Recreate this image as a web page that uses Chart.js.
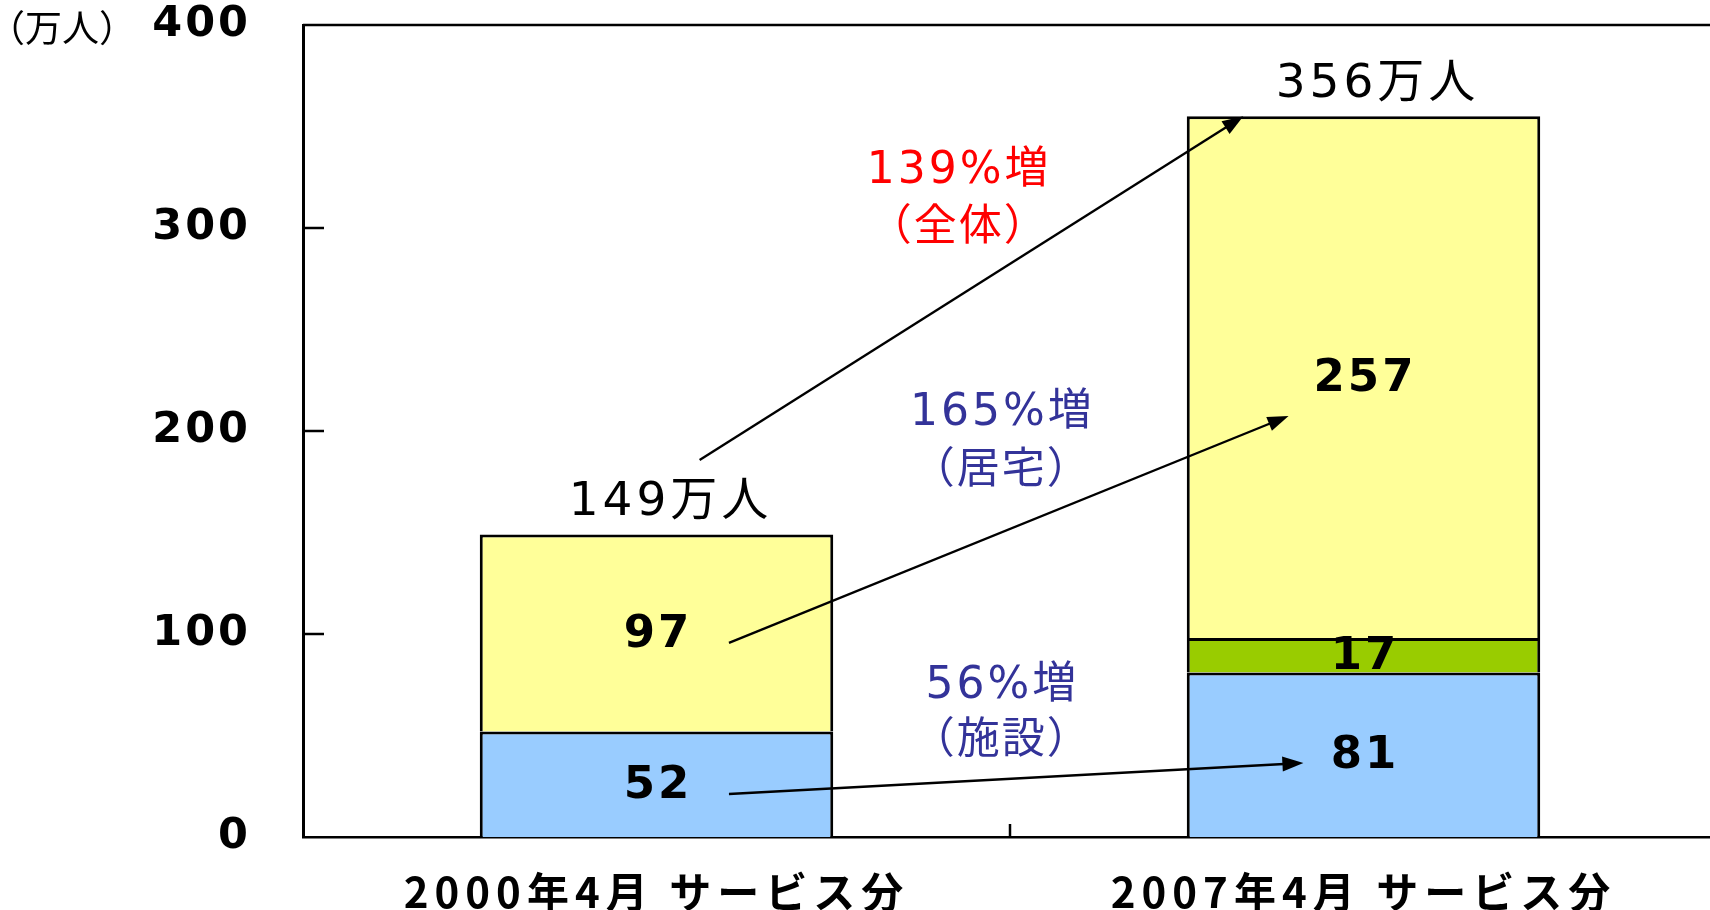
<!DOCTYPE html>
<html>
<head>
<meta charset="utf-8">
<script src="https://cdn.jsdelivr.net/npm/chart.js@4.4.1/dist/chart.umd.min.js"></script>
<style>
	html, body { margin: 0; padding: 0; background: #fff; overflow: hidden; }
	#wrap { width: 1710px; height: 910px; overflow: hidden; }
</style>
</head>
<body>
<div id="wrap"><canvas id="bars" width="1720" height="910"></canvas></div>
<script>
// categories and stacked series (万人)
const categories = ["2000年4月 サービス分", "2007年4月 サービス分"];
const facility = [52, 81];
const community = [0, 17];
const homeCare = [97, 257];
const totalLabels = ["149万人", "356万人"];
const growthPct = ["139%増", "165%増", "56%増"];
const growthScope = ["（全体）", "（居宅）", "（施設）"];
const unitLabel = "（万人）";

// where the growth notes sit, in (category index, value) space
const notePlace = [
	{ color: "#FF0000", x: 0.426, y: [327.6, 299.5], from: [0.061, 185.7], to: [0.83, 355] },
	{ color: "#333399", x: 0.487, y: [208.4, 179.8], from: [0.1025, 95.6], to: [0.894, 207.4] },
	{ color: "#333399", x: 0.487, y: [73.9, 46.8], from: [0.1025, 21.2], to: [0.915, 36.5] },
];

const JP = '"DejaVu Sans", "Noto Sans CJK JP"';

function spaceLabels(scale, gap) {
	if (scale._spaced) return;
	const draw = scale.drawLabels;
	scale.drawLabels = function (area) {
		this.ctx.save();
		this.ctx.letterSpacing = gap;
		draw.call(this, area);
		this.ctx.restore();
	};
	scale._spaced = true;
}

function line(ctx, x0, y0, x1, y1) {
	ctx.beginPath();
	ctx.moveTo(x0, y0);
	ctx.lineTo(x1, y1);
	ctx.stroke();
}

function arrow(ctx, x0, y0, x1, y1) {
	const a = Math.atan2(y1 - y0, x1 - x0);
	const len = 21, half = 7.5;
	line(ctx, x0, y0, x1 - Math.cos(a) * len * 0.7, y1 - Math.sin(a) * len * 0.7);
	ctx.beginPath();
	ctx.moveTo(x1, y1);
	ctx.lineTo(x1 - len * Math.cos(a) + half * Math.sin(a), y1 - len * Math.sin(a) - half * Math.cos(a));
	ctx.lineTo(x1 - len * Math.cos(a) - half * Math.sin(a), y1 - len * Math.sin(a) + half * Math.cos(a));
	ctx.closePath();
	ctx.fill();
}

function text(ctx, str, x, y, font, color, gap) {
	ctx.font = font;
	ctx.fillStyle = color;
	ctx.letterSpacing = gap + "px";
	ctx.textAlign = "center";
	ctx.textBaseline = "middle";
	ctx.fillText(str, x + gap / 2, y);
}

const extras = {
	id: "extras",
	afterDatasetsDraw(chart) {
		const ctx = chart.ctx;
		const xs = chart.scales.x;
		const ys = chart.scales.y;
		const area = chart.chartArea;
		ctx.save();
		ctx.strokeStyle = "#000";
		ctx.fillStyle = "#000";
		ctx.lineWidth = 2.5;
		// top frame line
		line(ctx, area.left, area.top, area.right, area.top);
		// inward tick marks
		ys.ticks.forEach((t) => {
			if (t.value <= ys.min || t.value >= ys.max) return;
			const y = ys.getPixelForValue(t.value);
			line(ctx, area.left, y, area.left + 21, y);
		});
		for (let i = 1; i < xs.ticks.length; i++) {
			const x = (xs.getPixelForTick(i - 1) + xs.getPixelForTick(i)) / 2;
			line(ctx, x, area.bottom, x, area.bottom - 13);
		}

		// segment values
		chart.data.datasets.forEach((ds, di) => {
			const meta = chart.getDatasetMeta(di);
			meta.data.forEach((el, i) => {
				const v = ds.data[i];
				if (!v) return;
				text(ctx, String(v), el.x, (el.y + el.base) / 2 + 2, "bold 45px " + JP, "#000", 3);
			});
		});

		// totals above each stack
		const topMeta = chart.getDatasetMeta(chart.data.datasets.length - 1);
		topMeta.data.forEach((el, i) => {
			text(ctx, totalLabels[i], el.x + 12, el.y - 32, "47px " + JP, "#000", 4);
		});

		// growth arrows and notes
		ctx.lineWidth = 2.4;
		notePlace.forEach((n, i) => {
			ctx.strokeStyle = "#000";
			ctx.fillStyle = "#000";
			arrow(ctx,
				xs.getPixelForValue(n.from[0]), ys.getPixelForValue(n.from[1]),
				xs.getPixelForValue(n.to[0]), ys.getPixelForValue(n.to[1]));
			const cx = xs.getPixelForValue(n.x);
			text(ctx, growthPct[i], cx, ys.getPixelForValue(n.y[0]), "44px " + JP, n.color, 3);
			text(ctx, growthScope[i], cx, ys.getPixelForValue(n.y[1]), "43px " + JP, n.color, 2);
		});

		// unit label top-left
		text(ctx, unitLabel, 62, area.top + 3, '37px "Noto Sans CJK JP"', "#000", 0);
		ctx.restore();
	},
};

const data_b1 = {
	labels: categories,
	datasets: [
		{ label: "施設", data: facility, backgroundColor: "#99CCFF" },
		{ label: "地域密着型", data: community, backgroundColor: "#99CC00" },
		{ label: "居宅", data: homeCare, backgroundColor: "#FFFF99" },
	].map((d) => Object.assign(d, {
		borderColor: "#000",
		borderWidth: 3,
		borderSkipped: "start",
		barPercentage: 0.5,
		categoryPercentage: 1.0,
	})),
};

const config_b1 = {
	type: "bar",
	data: data_b1,
	plugins: [extras],
	options: {
		responsive: false,
		devicePixelRatio: 1,
		animation: false,
		layout: { padding: { left: 0, right: 3, top: 0, bottom: 0 } },
		plugins: {
			legend: { display: false },
			tooltip: { enabled: false },
		},
		scales: {
			x: {
				stacked: true,
				offset: true,
				grid: { display: false, drawTicks: false },
				border: { color: "#000", width: 2.5 },
				ticks: {
					color: "#000",
					padding: 30,
					font: { family: '"Noto Sans CJK JP"', size: 42, weight: "bold", lineHeight: 1.2 },
				},
				afterFit(scale) {
					scale.height = 73;
					scale.paddingLeft = 0;
					scale.paddingRight = 0;
					spaceLabels(scale, "6px");
				},
			},
			y: {
				stacked: true,
				min: 0,
				max: 400,
				grid: { display: false, drawTicks: false },
				border: { color: "#000", width: 3 },
				ticks: {
					stepSize: 100,
					color: "#000",
					padding: 52,
					font: { family: '"DejaVu Sans"', size: 43, weight: "bold", lineHeight: 1.2 },
				},
				afterFit(scale) {
					scale.width = 303;
					scale.paddingTop = 25;
					scale.paddingBottom = 0;
					spaceLabels(scale, "3px");
				},
			},
		},
	},
};

new Chart(document.getElementById("bars"), config_b1);
</script>
</body>
</html>
